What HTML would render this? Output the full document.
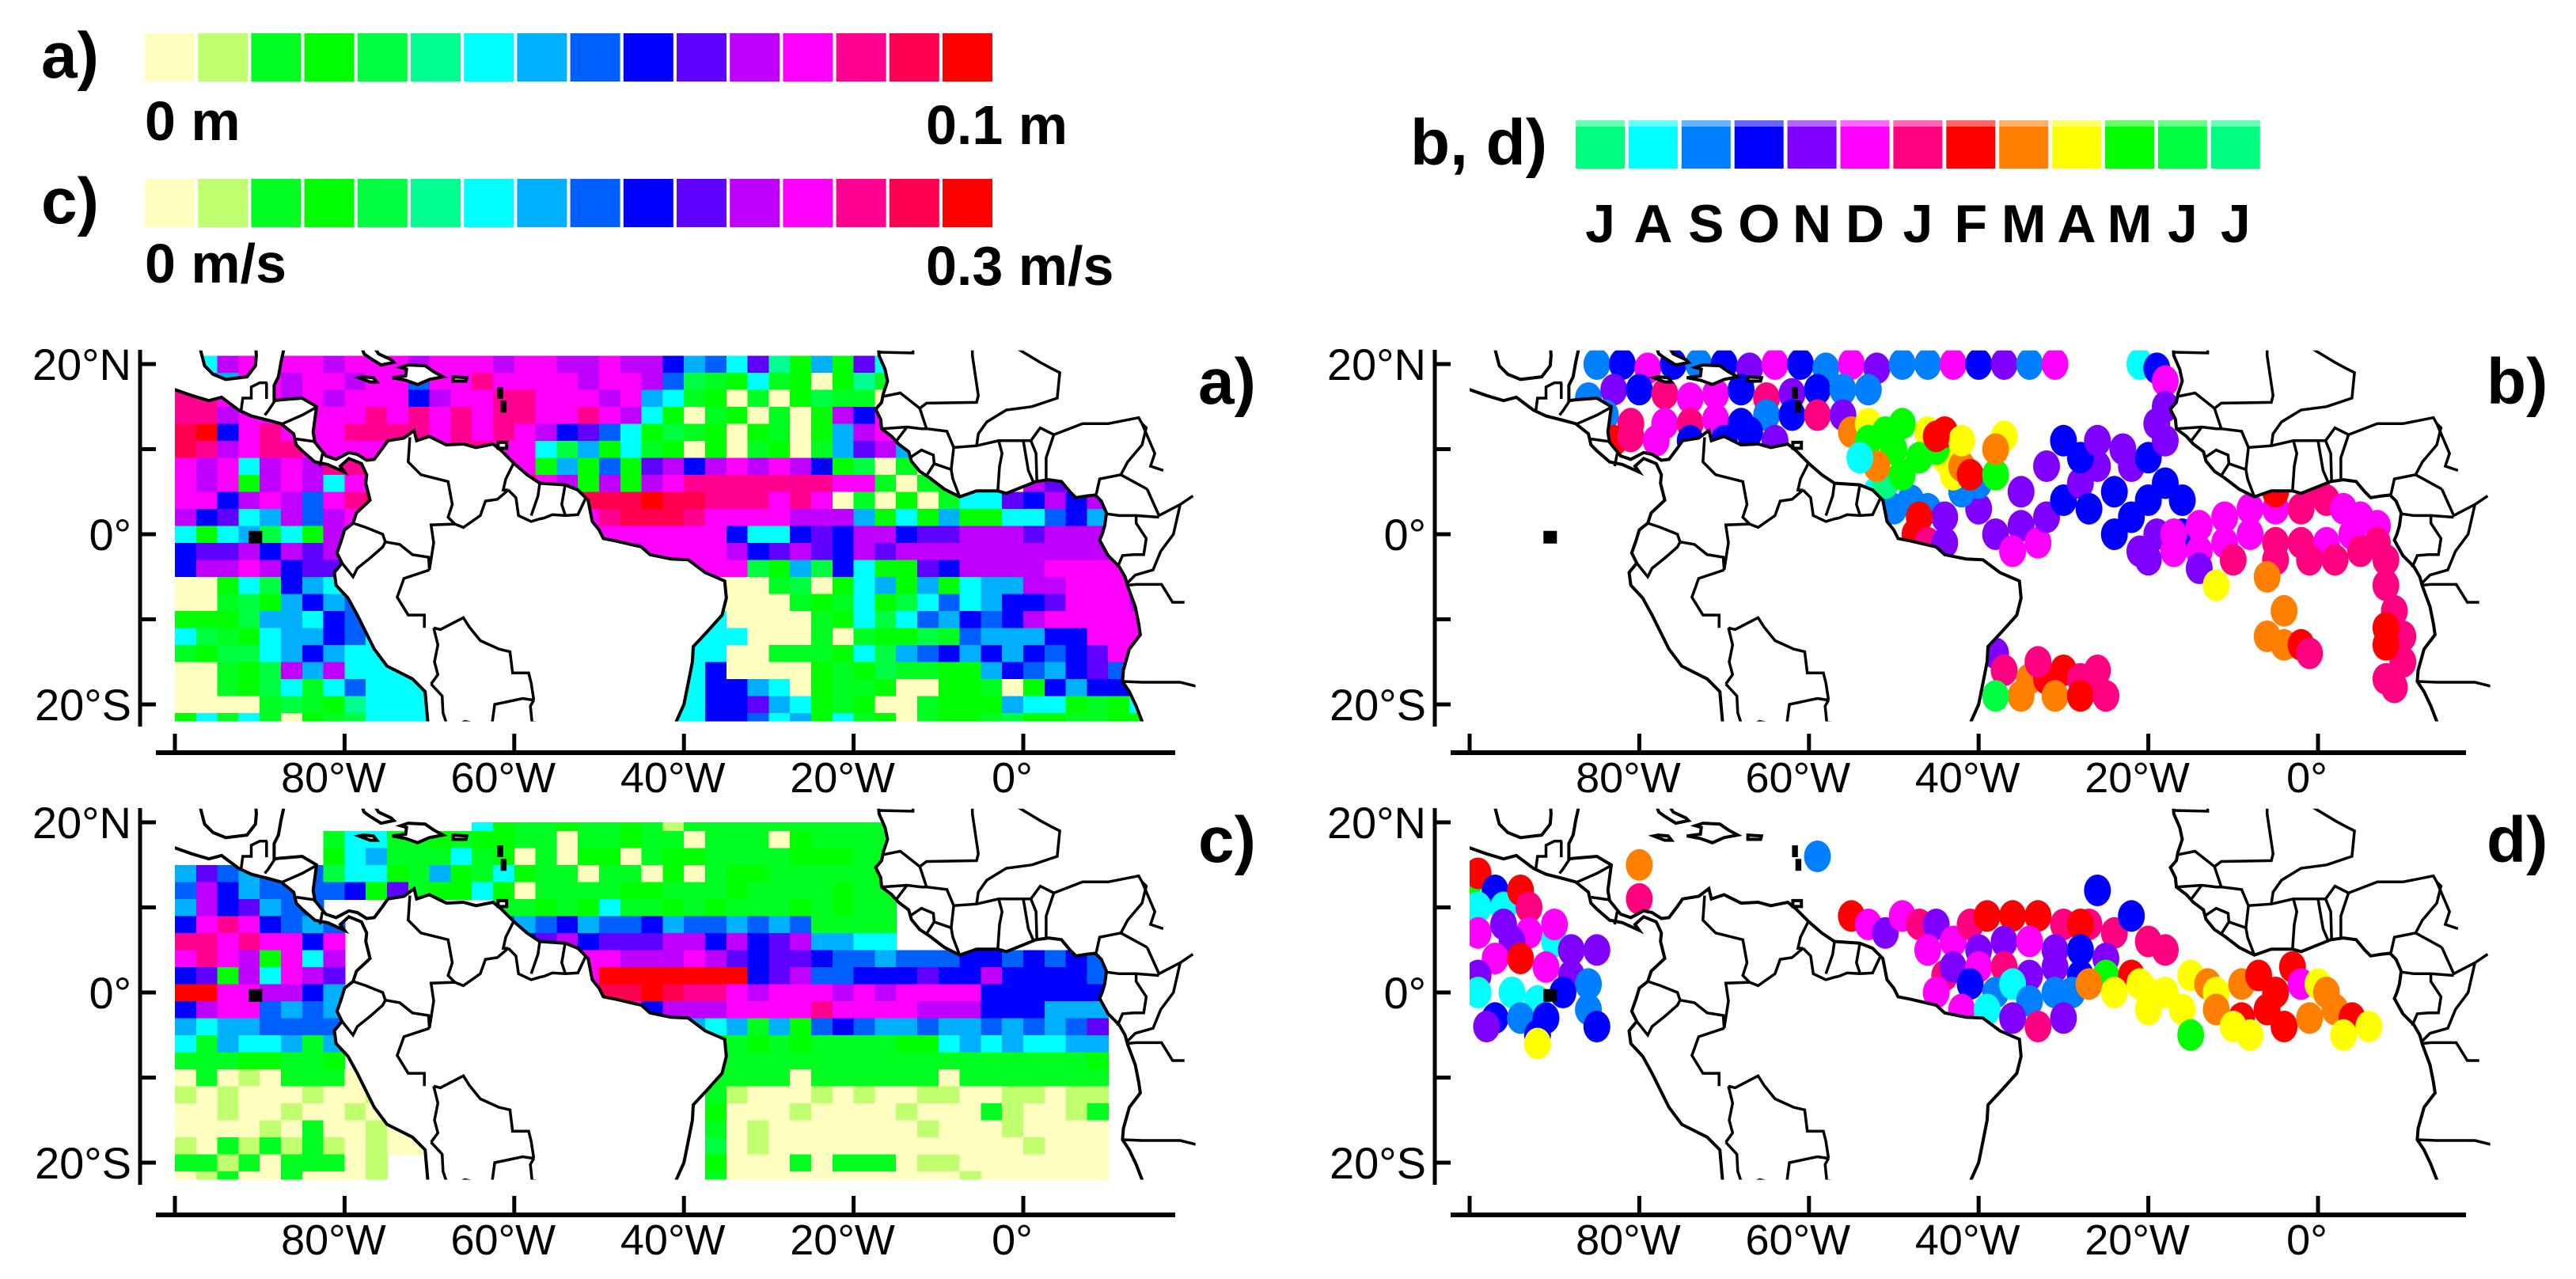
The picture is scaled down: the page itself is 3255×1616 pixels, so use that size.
<!DOCTYPE html>
<html><head><meta charset="utf-8"><style>
html,body{margin:0;padding:0;background:#fff;}
svg{display:block;}
text{font-family:"Liberation Sans",sans-serif;fill:#000;}
</style></head><body>
<svg id="fig" xmlns="http://www.w3.org/2000/svg" width="3255" height="1616" viewBox="0 0 3255 1616">
<rect x="0" y="0" width="3255" height="1616" fill="#fff"/>
<g id="legends">
<text x="52" y="98" font-size="82" font-weight="bold">a)</text>
<text x="52" y="282" font-size="82" font-weight="bold">c)</text>
<text x="183" y="177" font-size="70" font-weight="bold">0 m</text>
<text x="1170" y="182" font-size="70" font-weight="bold">0.1 m</text>
<text x="183" y="357" font-size="70" font-weight="bold">0 m/s</text>
<text x="1170" y="360" font-size="70" font-weight="bold">0.3 m/s</text>
<text x="1782" y="208" font-size="82" font-weight="bold">b, d)</text>
</g>
<g id="panels"></g>
</svg>
<script>
// ---------- data arrays ----------
const ampColors = ["#ffffc0","#c0ff70","#00ff20","#00ff00","#00ff40","#00ff90","#00ffff","#00b0ff","#0060ff","#0000ff","#6000ff","#c000ff","#ff00ff","#ff0090","#ff0050","#ff0000"];
const monthColors = ["#00ff80","#00ffff","#0080ff","#0000ff","#8000ff","#ff00ff","#ff0080","#ff0000","#ff8000","#ffff00","#00ff00","#00ff40","#00ff80"];
const monthLabels = ["J","A","S","O","N","D","J","F","M","A","M","J","J"];
const latTicks = [20,10,0,-10,-20];
const latTickLabels = ["20°N","","0°","","20°S"];
const lonTicks = [-100,-80,-60,-40,-20,0];
const lonTickLabels = ["","80°W","60°W","40°W","20°W","0°"];

const heatA = [
[[0,"c6bccccbcccbcccbccbbcbb9786a5373a6cccccccccccc"]],
[[0,"cc7ccbccbcc8ccdccccbccb842362303520cccccccccccc"]],
[[0,"ddcccbcbccc9bccddcccbc7623020342203bcccccccccc"]],
[[0,"ddbccccccdcdcdcddccdcb630230203b9cbbbbbbbbbbbb"]],
[[0,"ef9cdcccddddcdcdcb9a863423032037bcbbbbbbbbbbbb"]],
[[0,"edbcddccccddcddcc647362303023027ab73aaaaaaaaaa"]],
[[0,"cbc6bcbddeccccccc37383ab9bcbcb934020302bbbbbbb"]],
[[0,"cbc3bcb6ccdeeeeeecb3b3bcdddddddcc2023020bab9bb"]],
[[0,"cc9bcb8cdeeeeeeeeeeeeefeedddcdc02030266a9b9ba9"]],
[[0,"b9a67b8bcddddddddddcdeeedccccbbb73637336689787"]],
[[0,"6367463b8dddddddddddcccccc9669a9bb9aabbbabbb9b"]],
[[0,"9aab9bab9bbbbbbbbbbbbbccccb9aba9babbbbbbbbbbbb"]],
[[0,"9bbcb9aa7bbbbbbbbbbbbbbbccc43749633a9bbbbccccb"]],
[[0,"0036497677777777777777777000240367373677bbcccc"]],
[[0,"00243797866666666666666660000232634686799acccb"]],
[[0,"3334776986666666666666666600002364687989bccccc"]],
[[0,"6423677986666666666666666660002023342877799ccc"]],
[[0,"2344679766666666666666666600222364789797989acc"]],
[[0,"00234b7b66666666666666666900003234223379879a88"]],
[[0,"0023462686666666666666666997603223003320397998"]],
[[0,"000024235666666666666666699a763230023337663236"]],
[[0,"3626203246666666666666666998673623023324332233"]]
];
const heatC = [
[[14,"63223223212222222222"]],
[[7,"2662232"],[14,"33220223220222032222"]],
[[7,"3672226"],[14,"23020330233222233322"]],
[[0,"7a878884663273"],[14,"26322022030233222223"]],
[[0,"8b97888893a233"],[14,"63022223322232222322"]],
[[0,"7b9a788"],[15,"2232362232322232322"]],
[[0,"9cdc9878"],[15,"8789788978878782222"]],
[[0,"ddcdcc9c"],[15,"89ab9aaabb9b9ab7766"]],
[[0,"cdcb3c6b"],[15,"aabbccbbbcba9aa98878"],[35,"889989898"]],
[[0,"9a3b6cba"],[18,"ccfffffff9ab889"],[33,"99a99b99998"]],
[[0,"ffccbb97"],[18,"cceefeddcbcccbcbcccc999999"]],
[[0,"9bcc8787"],[19,"dcc9bbbccccdccccbbb999777"]],
[[0,"76778888"],[20,"87237672738987787787878a"]],
[[0,"62766727"],[21,"83333232322223367676677"]],
[[0,"22233223"],[24,"22222222222222222223"]],
[[0,"020102220"],[25,"2222022222202222222"]],
[[0,"1010001001"],[25,"2100010100110011011"]],
[[0,"00100100100"],[25,"3000100001000210012"]],
[[0,"000010200100"],[25,"2010000000100010000"]],
[[0,"102121210100"],[25,"4010000000000001000"]],
[[0,"2212022201"],[25,"3000202220110000000"]],
[[0,"0120020001"],[25,"2000000000001000000"]]
];

const pointsB = [
[-85,20,2],[-82,20,3],[-79,19.5,5],[-76,20,3],[-73,20,2],[-70,20,3],[-67,19.5,4],[-64,20,5],[-61,20,3],[-58,19.5,2],[-55,20,5],[-52,19.5,4],[-49,20,2],[-46,20,2],[-43,20,5],[-40,20,3],[-37,20,4],[-34,20,2],[-31,20,5],[-21,20,1],[-19,19.5,3],[-18,18,5],
[-86,16,2],[-83,17,4],[-80,17,3],[-77,16.5,6],[-74,16,5],[-71,16.5,5],[-68,17,3],[-65,16,6],[-62,16.5,4],[-59,17,3],[-56,17,2],[-53,17,2],
[-84,14,2],[-81,13,6],[-77,13,5],[-74,13,6],[-71,13.5,5],[-68,13,3],[-65,14,2],[-62,14,3],[-59,14,6],[-56,14,4],
[-83,11,7],[-81,11.5,6],[-78,11,5],[-74,11,3],[-70,11,3],[-67,12,3],[-64,11,4],
[-46,3,2],[-48,4,2],[-44,2,4],[-40,3,4],[-38,0,4],[-35,1,4],[-33,-1,5],[-36,-2,5],[-32,2,4],[-30,4,3],[-28,6,4],[-26,8,4],[-27,3,3],[-24,0,3],[-22,2,3],[-24,5,3],[-22,8,4],[-20,9,3],[-18,11,4],[-19,13,4],[-18,15,4],[-23,10,4],[-28,9,3],[-32,8,4],[-35,5,4],[-40,6,2],[-42,5,2],[-20,4,3],[-18,6,3],[-16,0,3],[-19,0,4],[-21,-2,4],[-16,4,3],[-26,11,4],[-30,11,3],
[-52,5,1],[-50,3,2],[-51,6,0],
[-55,12,8],[-53,13,9],[-53,11,10],[-51,12,10],[-50,10,10],[-49,13,10],[-46,12,9],[-44,9,9],[-47,9,10],[-45,10,10],[-49,7,10],[-52,8,8],[-54,9,1],[-43,7,9],[-42,8,8],[-41,7,7],[-38,7,10],[-44,12,7],[-42,11,9],[-37,11.5,9],[-38,10,8],[-45,11.5,7],
[-47,2,7],[-47.5,0,7],[-46,-1,6],[-44,-1,4],
[-17,0,5],[-14,1,5],[-11,2,5],[-8,3,5],[-5,3,5],[-2,3,6],[1,4,6],[3,3,5],[5,2,5],[7,1,5],[-17,-2,5],[-14,-2,5],[-11,-1,5],[-8,0,5],[-5,-1,6],[-2,-1,6],[1,-1,5],[4,0,5],[7,-1,6],[-10,-3,6],[-5,-3,6],[-1,-3,6],[2,-3,6],[5,-2,6],[8,-3,6],[-14,-4,4],[-20,-3,4],[-5,5,7],[0,5,6],
[8,-6,6],[9,-9,6],[10,-12,6],[10,-15,6],[8,-13,7],[8,-11,7],[9,-18,6],[8,-17,6],
[-12,-6,9],[-6,-5,8],[-4,-9,8],[-6,-12,8],[-4,-13,8],[-2,-13,7],[-1,-14,6],
[-38,-14,4],[-37,-16,6],[-34,-17,8],[-32,-17,7],[-30,-16,7],[-28,-17,6],[-27,-18,6],[-35,-19,8],[-31,-19,8],[-28,-19,7],[-25,-19,6],[-38,-19,11],[-33,-15,6],[-26,-16,6]
];
const pointsD = [
[-100,13,10],[-99,14,7],[-97,12,3],[-99,10,1],[-96,10,1],[-94,12,7],[-93,10,6],[-99,7,5],[-96,8,4],[-93,7,5],[-90,6,1],[-88,5,4],[-85,5,4],[-90,8,5],[-95,6,4],[-97,4,5],[-94,4,7],[-91,3,5],[-88,2,4],[-86,1,2],[-99,2,4],[-99,0,1],[-95,0,1],[-92,-1,1],[-89,0,3],[-97,-3,3],[-94,-3,2],[-91,-3,3],[-86,-2,2],[-85,-4,3],[-98,-4,4],[-92,-5,3],[-92,-6,9],
[-80,15,8],[-80,11,6],[-59,16,2],[-26,12,3],
[-55,9,7],[-53,8,5],[-51,7,4],[-49,9,5],[-47,8,6],[-45,8,4],[-43,6,5],[-41,8,6],[-39,9,7],[-36,9,7],[-33,9,7],[-30,8,6],[-27,8,6],[-24,7,6],[-22,9,3],[-20,6,6],[-18,5,6],[-28,8,7],[-46,5,5],[-40,5,4],[-37,6,4],[-34,6,5],[-31,5,4],[-28,5,3],[-25,4,4],[-44,2,6],[-43,3,4],[-40,3,5],[-37,3,6],[-34,2,4],[-31,3,4],[-28,2,3],[-45,0,5],[-41,1,3],[-38,0,2],[-36,1,1],[-34,-1,2],[-31,0,2],[-29,0,2],[-42,-2,5],[-39,-2,1],[-36,-3,4],[-33,-4,6],[-30,-3,4],
[-25,2,10],[-22,2,7],[-27,1,8],[-24,0,9],[-21,1,9],[-20,0,9],[-18,0,9],[-15,2,9],[-13,1,8],[-12,0,9],[-20,-2,9],[-16,-2,9],[-12,-2,8],[-9,1,8],[-7,2,7],[-3,3,7],[-5,0,7],[-2,1,5],[0,1,9],[1,0,8],[-9,-3,7],[-6,-2,7],[-4,-4,7],[-1,-3,8],[2,-2,8],[4,-3,7],[6,-4,9],[3,-5,9],[-10,-4,9],[-8,-5,9],[-15,-5,10]
];

const landAmericas = [[-100,17],[-98,16.3],[-96,15.7],[-94.5,16.1],[-92.5,14.6],[-91,13.9],[-89,13.4],[-87.5,13],[-86,11.8],[-85.7,10.5],[-85,9.8],[-83.5,8.5],[-82,8.2],[-80,7.3],[-80.5,8],[-79.5,8.9],[-78,8.3],[-77.4,7],[-77.5,6],[-77,4],[-78.6,2.5],[-79,1.3],[-80,0.5],[-80.4,-0.8],[-80.9,-2.2],[-80.3,-3.4],[-81.2,-4.5],[-81,-6],[-79.6,-7.5],[-78.5,-9.5],[-76.5,-13.5],[-75,-15.5],[-72,-17],[-70.5,-18.5],[-70.2,-22],[-70,-24],[-41,-24],[-40.9,-22],[-40,-20],[-39.5,-17.5],[-39,-15],[-38.9,-13.2],[-37.3,-11.5],[-35.5,-9.5],[-35,-7.5],[-35.2,-5.5],[-37.5,-4.5],[-39.5,-3],[-41.5,-2.9],[-44,-2.4],[-45,-1.5],[-48,-0.8],[-49.5,-0.5],[-50,0.5],[-50.8,1.5],[-51.3,4],[-52.5,5.2],[-54,5.8],[-57,6],[-58.5,7],[-60,8.3],[-61.5,9.8],[-62.5,10.6],[-64.5,10.2],[-66,10.6],[-68,10.5],[-70,11.5],[-71.5,11],[-71.8,12.2],[-73,11.3],[-74.9,11],[-75.6,10],[-76.5,8.8],[-77.4,8.7],[-78.5,9.4],[-79.5,9.6],[-81,8.8],[-82.2,9.2],[-83.5,10.8],[-83.7,12],[-83.3,15],[-85,16],[-87.5,15.8],[-88.3,15.7],[-88.3,17.5],[-87.8,18.5],[-87.5,20.2],[-87,22.5],[-90.5,22.5],[-90.4,21],[-90.5,19.8],[-91.5,18.5],[-94,18.2],[-95.5,18.8],[-96.5,19.8],[-97.2,22.5],[-101,22.5],[-101,17]];
const landAfrica = [[-17.1,22.5],[-17,21],[-16.3,19.4],[-16,18],[-16.5,16.5],[-16.7,15.5],[-17.4,14.7],[-16.8,13.5],[-16.7,12.4],[-15.5,11.5],[-14.7,10.6],[-13.5,9.7],[-13.2,8.6],[-12.2,7.4],[-11,6.6],[-9.3,5.3],[-7.5,4.4],[-5.5,5.1],[-3,5.1],[-2,4.8],[0,5.6],[1.5,6.2],[3,6.4],[4.5,6.2],[5.5,5],[6.2,4.3],[7.5,4.5],[8.5,4.6],[9.2,3.9],[9.8,2.5],[9.6,1],[9.3,0],[9,-0.7],[10,-2.5],[11.3,-3.8],[12,-5],[12.3,-6.1],[13.2,-8.5],[13.6,-10.5],[13.8,-11.8],[12.5,-13.5],[11.8,-16],[11.7,-17.3],[12.5,-18.5],[13.3,-20.2],[14,-22],[14.5,-24],[23,-24],[23,22.5]];
const islandsOutline = [
[[-78,22],[-77.7,21.2],[-77,20.7],[-75.7,19.9],[-74.2,20.2],[-74.5,20.5],[-76,21.2],[-76.5,22]],
[[-78.3,18.4],[-77,17.9],[-76.2,17.9],[-76.6,18.4],[-77.8,18.5]],
[[-74.4,18.4],[-72.8,18.1],[-71.4,17.6],[-70,18.2],[-68.4,18.5],[-69.5,19.1],[-70.5,19.8],[-72.5,19.9],[-73.4,19.6],[-72.7,19.4],[-72.8,18.6]],
[[-67.2,18.5],[-65.6,18.4],[-65.7,18],[-67.2,18]],
[[-61.9,10.1],[-60.9,10.1],[-60.9,10.8],[-61.9,10.8]]
];
const islandsSolid = [
[[-61.5,14.4],[-61,14.4],[-61,15.6],[-61.5,15.6]],
[[-61.9,16],[-61.4,16],[-61.4,17.2],[-61.9,17.2]],
[[-91.2,-1],[-89.8,-1],[-89.8,0.3],[-91.2,0.3]]
];
const borders = [
[[-72.3,11.4],[-72.5,8.5],[-71,7],[-67.8,6.2],[-67.3,3.5],[-67.8,2],[-67,1.2]],
[[-60,8.5],[-61,6.5],[-61.3,5.2],[-60.7,5.2]],
[[-67,1.2],[-66,0.8],[-64,2.2],[-63.4,3.9],[-62,4.1],[-60.7,5.2]],
[[-60.7,5.2],[-59.8,4.3],[-59.5,2.2],[-58,1.5],[-57,1.8],[-56.5,1.9]],
[[-57,6],[-57.2,4.5],[-58,2.2]],
[[-54,5.8],[-54.4,3.5],[-54,2.3]],
[[-51.6,4.2],[-52.5,2.3],[-54,2.2],[-55.5,2.3],[-56.5,1.9]],
[[-79,1.3],[-77.5,0.8],[-75.5,0],[-75.2,-0.9]],
[[-80.3,-3.4],[-79,-5],[-78.5,-4],[-77,-2.8],[-75.5,-1.5],[-75.2,-0.9]],
[[-75.2,-0.9],[-73.5,-1.2],[-72,-2.4],[-70.1,-2.7],[-70,-4.2]],
[[-67,1.2],[-69.8,1.1],[-69.5,-1],[-70,-4.2]],
[[-70,-4.2],[-73,-5.2],[-73.8,-7.4],[-72.5,-9.5],[-70.6,-9.5],[-70.6,-11]],
[[-69.5,-11],[-69,-13],[-69.4,-15],[-69,-16.5],[-69.8,-17.6]],
[[-69.5,-11],[-68.7,-11.2],[-66,-9.8],[-65.3,-10.9],[-64,-12.5],[-61.8,-13.5],[-60.5,-13.8],[-60.2,-16.3],[-58.3,-16.3],[-58,-17.5],[-57.7,-19.5]],
[[-69.8,-17.6],[-68.5,-19],[-68.4,-21],[-67.8,-22.8]],
[[-57.7,-19.5],[-59,-19.3],[-62.3,-20],[-62.6,-22.2],[-64.5,-22.3],[-65.8,-22],[-67.8,-22.8]],
[[-57.7,-19.5],[-58.1,-20.2],[-57.9,-22.1],[-55.8,-22.3],[-55,-23]],
[[-83.6,10.9],[-85.7,11.2]],
[[-82.9,8],[-82.6,9.5]],
[[-83.2,15],[-85,14],[-87.3,13]],
[[-88.2,15.7],[-89,14.5],[-89.4,14]],
[[-89.2,17.8],[-89.2,15.9]],
[[-92.2,14.5],[-92,16],[-91,16],[-91,17.3],[-90,17.8],[-89.1,17.8]],
[[-17,21.4],[-13,21.3],[-13,23]],
[[-16.5,16.2],[-14.5,16.6],[-12.2,14.8],[-11.4,15.4],[-5.5,15.5],[-5.3,16.3],[-6,21],[-6,23]],
[[-16.7,12.4],[-13.7,12.6],[-12,12.4],[-11.4,12.4],[-12.2,14.8]],
[[-15,10.9],[-13.7,12.6]],
[[-13.2,9.1],[-12,9.9],[-10.6,9.3],[-10.5,8.3],[-11.4,6.9]],
[[-7.5,4.4],[-8.3,6.5],[-8.5,7.6]],
[[-11.4,12.4],[-9,12.1],[-8.2,10.2],[-8.5,7.6],[-10.5,8.3]],
[[-3,5.1],[-2.8,8],[-2.5,9.5],[-2.9,11]],
[[-5.5,10.4],[-5.3,11.8],[-4.3,13.2],[-2,14.6],[1,15]],
[[-8.2,10.2],[-5.5,10.4],[-2.9,11],[0,11]],
[[1.2,6.1],[0.6,7.5],[0,11]],
[[1.6,6.2],[1.5,9.5],[0.9,11],[0,11]],
[[2.7,6.4],[2.7,9],[3.6,11.7]],
[[0.9,11],[2,12.5],[3.6,11.7],[7,13],[10,13],[13.6,13.7],[14,13]],
[[1,15],[4,16],[4.3,19],[3.3,19.5],[2,20.2],[-1,22]],
[[8.6,4.7],[9,6.5],[11.5,7],[12.3,8.5],[14,10.5],[14.5,12.5],[14,13]],
[[9.8,2.4],[11.3,2.2],[13.3,2.2],[16,2]],
[[11.1,-3.9],[11.7,-2.5],[13,-2.4],[14.2,-2.4],[14.5,-0.5],[13.3,1.3],[13.3,2.2]],
[[12.2,-5.8],[13.2,-4.8],[15.3,-4.2],[16.2,-2],[17.7,0],[18.5,3.5]],
[[12.2,-6],[13.3,-5.9],[16.3,-5.9],[17.6,-8],[19,-8]],
[[11.7,-17.3],[14,-17.4],[18.5,-17.4],[20.9,-18],[21,-23]],
[[14,13],[15.5,9.5],[15,8],[16.5,7.5]],
[[14.6,5.3],[16,2.2],[18.5,3.5],[20,4.5]],
[[11.5,7],[14.6,5.3]]
];

const PANELS = [
  {id:"a", x0:221, y0:675, axisX:177, axisY:951, xEnd:1485, kind:"heat", heat:heatA, heatTop:21.2, labelX:1514},
  {id:"b", x0:1857, y0:675, axisX:1813, axisY:951, xEnd:3116, kind:"dots", pts:pointsB, labelX:3142},
  {id:"c", x0:221, y0:1254, axisX:177, axisY:1535, xEnd:1485, kind:"heat", heat:heatC, heatTop:20, labelX:1514},
  {id:"d", x0:1857, y0:1254, axisX:1813, axisY:1535, xEnd:3116, kind:"dots", pts:pointsD, labelX:3142}
];
const PX_LON = 10.72, PX_LAT = 10.75;
function xOf(p, lon){ return p.x0 + (lon + 100) * PX_LON; }
function yOf(p, lat){ return p.y0 - lat * PX_LAT; }

const NS = "http://www.w3.org/2000/svg";
function mk(tag, attrs, parent){
  const el = document.createElementNS(NS, tag);
  for (const k in attrs) el.setAttribute(k, attrs[k]);
  if (parent) parent.appendChild(el);
  return el;
}
function pts(p, arr){ return arr.map(q => xOf(p,q[0]).toFixed(1)+","+yOf(p,q[1]).toFixed(1)).join(" "); }

const legends = document.getElementById("legends");
const panelsG = document.getElementById("panels");

ampColors.forEach((c,i)=>{
  const r1 = mk("rect",{x:183+i*67.2, y:42, width:63, height:61, fill:c}, legends);
  
  
  const r2 = mk("rect",{x:183+i*67.2, y:226, width:63, height:61, fill:c}, legends);
  
  
});
monthColors.forEach((c,i)=>{
  const r = mk("rect",{x:1991+i*66.9, y:152, width:62, height:61, fill:c}, legends);
  
  
  const top = mk("rect",{x:1991+i*66.9, y:152, width:62, height:8, fill:"#fff", opacity:0.4}, legends);
  
  
  const t = mk("text",{x:1991+i*66.9+31, y:306, "font-size":68, "font-weight":"bold", "text-anchor":"middle"}, legends);
  t.textContent = monthLabels[i];
  
  
});

PANELS.forEach(p=>{
  const g = mk("g",{}, panelsG);
  
  

  const clipId = "clip-"+p.id;
  const cp = mk("clipPath",{id:clipId}, g);
  mk("rect",{x:xOf(p,-100), y:yOf(p,21.6), width:xOf(p,20.3)-xOf(p,-100), height:yOf(p,-22)-yOf(p,21.6)}, cp);
  const map = mk("g",{"clip-path":"url(#"+clipId+")"}, g);
  
  

  if (p.kind === "heat"){
    const hc = "hclip-"+p.id;
    const hcp = mk("clipPath",{id:hc}, g);
    mk("rect",{x:xOf(p,-100), y:yOf(p,p.heatTop), width:xOf(p,20.3)-xOf(p,-100), height:yOf(p,-22)-yOf(p,p.heatTop)}, hcp);
    const hg = mk("g",{"clip-path":"url(#"+hc+")", "shape-rendering":"crispEdges"}, map);
    
    
    p.heat.forEach((row,ri)=>{
      const latTop = 21 - 2*ri;
      row.forEach(seg=>{
        const start = seg[0], s = seg[1];
        for (let k=0;k<s.length;k++){
          const ch = s[k];
          if (ch === ".") continue;
          const v = parseInt(ch,16);
          if (isNaN(v)) continue;
          const lon = -100 + 2.5*(start+k);
          const cell = mk("rect",{x:xOf(p,lon).toFixed(1), y:yOf(p,latTop).toFixed(1), width:(2.5*PX_LON+1).toFixed(1), height:(2*PX_LAT+1).toFixed(1), fill:ampColors[v]}, hg);
          
          
        }
      });
    });
  } else {
    const dg = mk("g",{}, map);
    
    
    p.pts.forEach(q=>{
      const e = mk("ellipse",{cx:xOf(p,q[0]).toFixed(1), cy:yOf(p,q[1]).toFixed(1), rx:17, ry:20, fill:monthColors[q[2]]}, dg);
      
      
    });
  }

  const landG = mk("g",{}, map);
  
  
  [landAmericas, landAfrica].forEach(poly=>{
    const pl = mk("polygon",{points:pts(p,poly), fill:"#fff", stroke:"#000", "stroke-width":4, "stroke-linejoin":"miter"}, landG);
    
    
  });
  islandsOutline.forEach(poly=>{
    const pl = mk("polygon",{points:pts(p,poly), fill:"#fff", stroke:"#000", "stroke-width":4}, landG);
    
    
  });
  islandsSolid.forEach(poly=>{
    const pl = mk("polygon",{points:pts(p,poly), fill:"#000", stroke:"#000", "stroke-width":2}, landG);
    
    
  });
  borders.forEach(line=>{
    const bl = mk("polyline",{points:pts(p,line), fill:"none", stroke:"#000", "stroke-width":3.5}, landG);
    
    
  });

  const yAxis = mk("line",{x1:p.axisX, y1:yOf(p,20)-18, x2:p.axisX, y2:yOf(p,-20)+28, stroke:"#000", "stroke-width":5}, g);
  
  
  latTicks.forEach((lat,i)=>{
    const tk = mk("line",{x1:p.axisX, y1:yOf(p,lat), x2:p.axisX+20, y2:yOf(p,lat), stroke:"#000", "stroke-width":5}, g);
    
    
    if (latTickLabels[i]){
      const t = mk("text",{x:p.axisX-11, y:yOf(p,lat)+20, "font-size":56, "text-anchor":"end"}, g);
      t.textContent = latTickLabels[i];
      
      
    }
  });
  const xAxis = mk("line",{x1:p.axisX+20, y1:p.axisY, x2:p.xEnd, y2:p.axisY, stroke:"#000", "stroke-width":6}, g);
  
  
  lonTicks.forEach((lon,i)=>{
    const tk = mk("line",{x1:xOf(p,lon), y1:p.axisY, x2:xOf(p,lon), y2:p.axisY-24, stroke:"#000", "stroke-width":5}, g);
    
    
    if (lonTickLabels[i]){
      const t = mk("text",{x:xOf(p,lon)-14, y:p.axisY+50, "font-size":54, "text-anchor":"middle"}, g);
      t.textContent = lonTickLabels[i];
      
      
    }
  });
  const lab = mk("text",{x:p.labelX, y:yOf(p,20)+50, "font-size":82, "font-weight":"bold"}, g);
  lab.textContent = p.id + ")";
  
  
});
</script>
</body></html>
